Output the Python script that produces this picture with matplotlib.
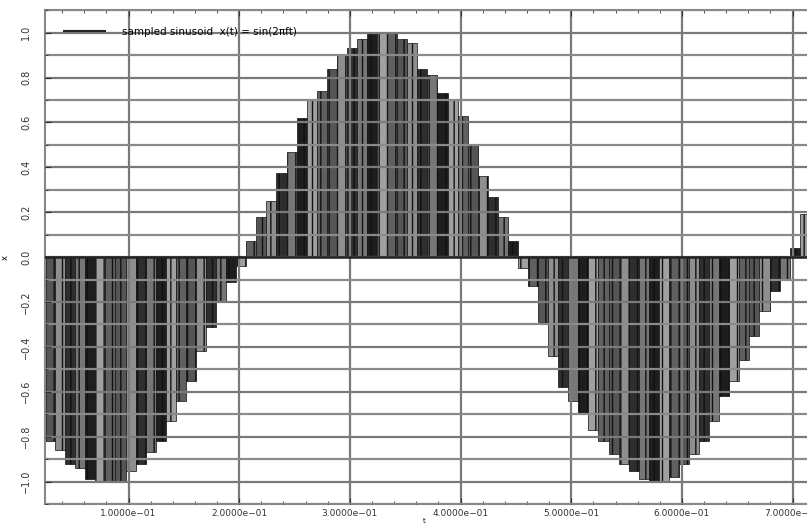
import numpy as np
import matplotlib
matplotlib.use("Agg")
import matplotlib.pyplot as plt
from matplotlib.lines import Line2D
from matplotlib.ticker import MultipleLocator, FuncFormatter

### data (one bar every sample)
t_start = 0.0291          # time of first sample
dt = 0.1 / 11             # sample spacing
x_values = [
    -0.82, -0.86, -0.92, -0.94, -0.99, -1.00, -1.00, -1.00, -0.955, -0.92,
    -0.87, -0.82, -0.73, -0.64, -0.55, -0.42, -0.31, -0.20, -0.11, -0.04,
    0.07, 0.18, 0.25, 0.375, 0.47, 0.62, 0.70, 0.74, 0.84, 0.90,
    0.93, 0.97, 1.00, 1.00, 1.00, 0.97, 0.955, 0.84, 0.81, 0.73,
    0.70, 0.63, 0.50, 0.36, 0.27, 0.18, 0.07, -0.05, -0.13, -0.29,
    -0.44, -0.58, -0.64, -0.70, -0.77, -0.82, -0.875, -0.92, -0.955, -0.99,
    -1.00, -1.00, -0.98, -0.92, -0.875, -0.82, -0.73, -0.62, -0.55, -0.46,
    -0.35, -0.24, -0.15, -0.10, 0.04, 0.19,
]
t_values = t_start + dt * np.arange(len(x_values))
legend_label = "sampled sinusoid  x(t) = sin(2\u03c0ft)"

# grey shades cycle through the bars
shades = ["#555555", "#8f8f8f", "#2e2e2e", "#767676", "#1e1e1e", "#a0a0a0", "#606060"]
colors = [shades[i % len(shades)] for i in range(len(x_values))]

fig = plt.figure(figsize=(8.07, 5.27), dpi=100)
ax = fig.add_axes([0.0558, 0.0436, 0.96, 0.937])

plt.rcParams['hatch.linewidth'] = 1.0
ax.bar(t_values, x_values, width=dt, color=colors, edgecolor="#111111",
       linewidth=0.5, hatch="||", zorder=1)

ax.set_xlim(0.02455, 0.7245)
ax.set_ylim(-1.1, 1.1)

# grid over the bars, like the reference
ax.xaxis.set_major_locator(MultipleLocator(0.1))
ax.xaxis.set_minor_locator(MultipleLocator(0.02))
ax.yaxis.set_major_locator(MultipleLocator(0.2))
ax.yaxis.set_minor_locator(MultipleLocator(0.1))
ax.grid(True, which="major", axis="both", color="#7a7a7a", linewidth=1.6, zorder=3)
ax.grid(True, which="minor", axis="y", color="#8a8a8a", linewidth=1.6, zorder=3)
ax.set_axisbelow(False)
ax.axhline(0, color="#222222", linewidth=1.8, zorder=4)

ax.xaxis.set_major_formatter(FuncFormatter(lambda v, p: f"{v:.4e}".replace("-", "\u2212")))
ax.tick_params(which="both", direction="in", top=True, right=True, colors="#333333")
ax.tick_params(axis="x", labelsize=6.5)
ax.tick_params(axis="y", labelsize=7, pad=10)
ax.tick_params(which="major", length=4)
ax.tick_params(which="minor", length=2)
for lab in ax.get_yticklabels():
    lab.set_rotation(90)
    lab.set_va("center")

for s in ax.spines.values():
    s.set_color("#888888")
    s.set_linewidth(1.5)

ax.set_xlabel("t", fontsize=5)
ax.xaxis.set_label_coords(0.49, -0.028)
ax.set_ylabel("x", fontsize=6)
ax.yaxis.set_label_coords(-0.045, 0.5)

handle = Line2D([0], [0], color="#222222", linewidth=1.5)
ax.legend([handle], [legend_label], loc="upper left", bbox_to_anchor=(0.012, 0.985),
          frameon=False, fontsize=7.5, handlelength=4.0, handletextpad=1.6)

fig.savefig("out.png", dpi=100)
